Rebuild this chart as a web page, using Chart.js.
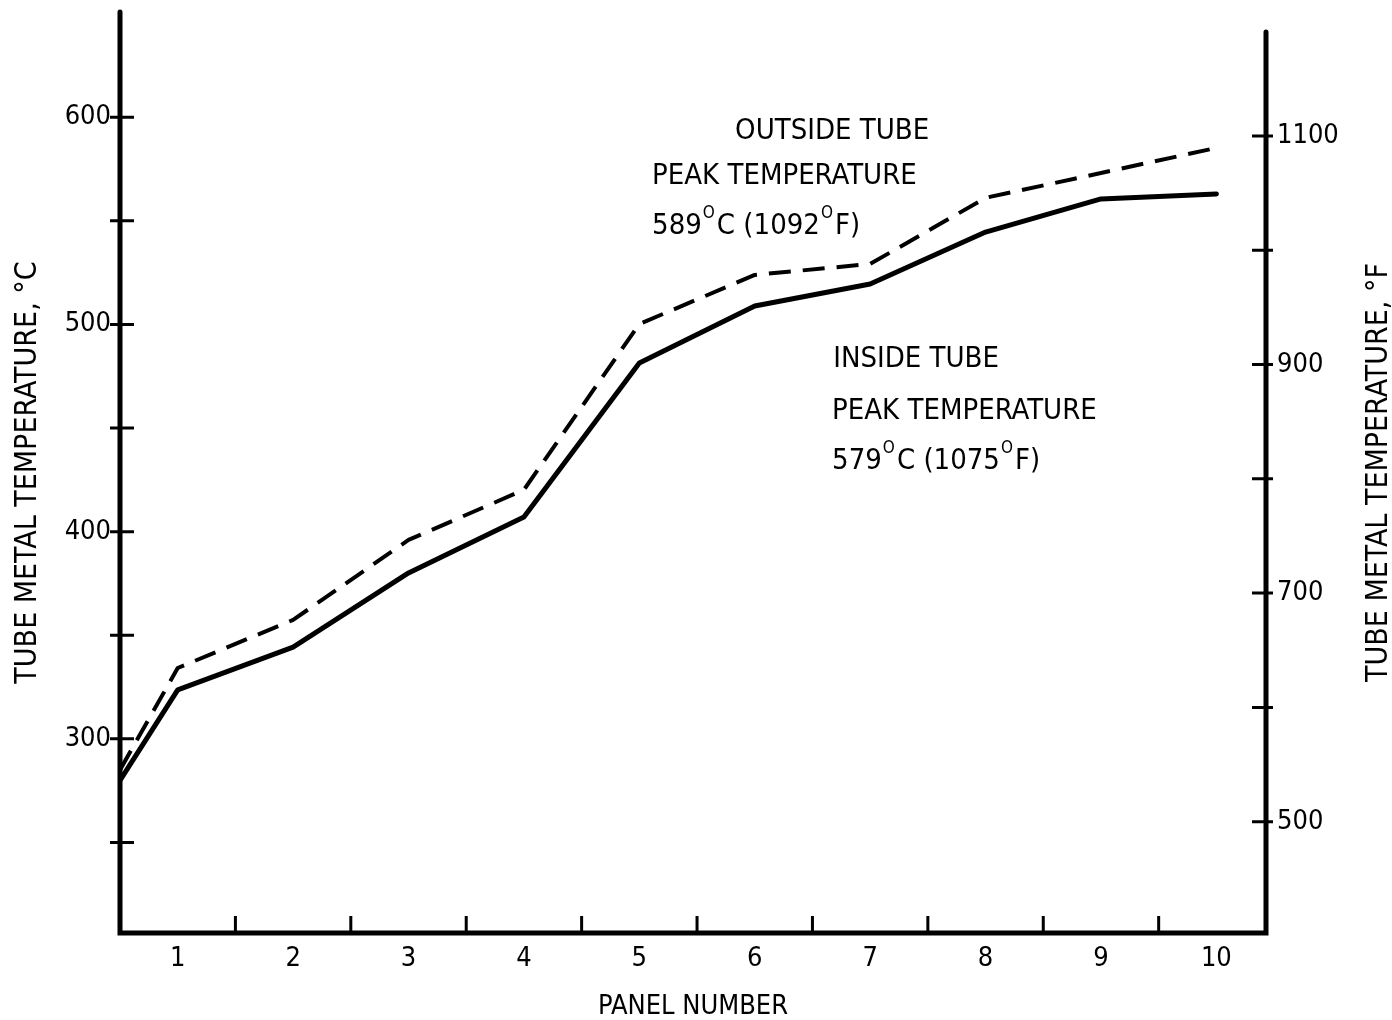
<!DOCTYPE html>
<html>
<head>
<meta charset="utf-8">
<script src="https://cdn.jsdelivr.net/npm/chart.js@4.4.1/dist/chart.umd.min.js"></script>
<style>
  html, body { margin: 0; padding: 0; background: #ffffff; }
  #wrap { width: 1392px; height: 1020px; position: relative; }
</style>
</head>
<body>
<div id="wrap"><canvas id="chart"></canvas></div>
<script>
// Panel positions along the furnace (0.5 = inlet edge of panel 1)
const PANELS = [0.5, 1, 2, 3, 4, 5, 6, 7, 8, 9, 10];
// Tube metal temperature, inside surface (°C)
const INSIDE_TUBE_C = [280, 323.6, 344.3, 380.1, 407.1, 481.4, 508.9, 519.5, 544.6, 560.6, 563.0];
// Tube metal temperature, outside surface (°C)
const OUTSIDE_TUBE_C = [285, 334.2, 357.4, 396.0, 420.2, 500.2, 523.9, 529.2, 561.1, 573.1, 585.2];

const PANEL_LABELS = [1, 2, 3, 4, 5, 6, 7, 8, 9, 10];
const PANEL_DIVIDERS = [1.5, 2.5, 3.5, 4.5, 5.5, 6.5, 7.5, 8.5, 9.5];
const C_TICKS = [300, 400, 500, 600];
const C_MINOR_TICKS = [250, 350, 450, 550];
const F_TICKS = [500, 700, 900, 1100];
const F_MINOR_TICKS = [600, 800, 1000];

// Text blocks placed in data units: [panel, °C]
const NOTES = [
  { at: [5.83, 592.9], parts: [['OUTSIDE TUBE']] },
  { at: [5.11, 571.2], parts: [['PEAK TEMPERATURE']] },
  { at: [5.11, 547.5], parts: [['589'], ['O', true], ['C (1092'], ['O', true], ['F)']] },
  { at: [6.68, 483.1], parts: [['INSIDE TUBE']] },
  { at: [6.67, 457.8], parts: [['PEAK TEMPERATURE']] },
  { at: [6.67, 434.1], parts: [['579'], ['O', true], ['C (1075'], ['O', true], ['F)']] }
];

const FAMILY = "'DejaVu Sans Condensed', 'DejaVu Sans', sans-serif";
const INK = '#000000';

function points(ys) {
  return PANELS.map((p, i) => ({ x: p, y: ys[i] }));
}

const axesAndNotes = {
  id: 'axesAndNotes',
  afterDatasetsDraw(chart) {
    const { ctx, chartArea: a, scales } = chart;
    const x = scales.x, yC = scales.yC, yF = scales.yF;
    ctx.save();
    ctx.strokeStyle = INK;
    ctx.lineCap = 'round';

    // frame: left, bottom, right
    ctx.lineWidth = 5;
    ctx.beginPath();
    ctx.moveTo(a.left, a.top);
    ctx.lineTo(a.left, a.bottom);
    ctx.lineTo(a.right, a.bottom);
    ctx.lineTo(a.right, a.top + 20);
    ctx.stroke();

    // tick marks
    ctx.lineWidth = 3;
    ctx.lineCap = 'butt';
    ctx.beginPath();
    C_TICKS.concat(C_MINOR_TICKS).forEach(v => {
      const py = yC.getPixelForValue(v);
      ctx.moveTo(a.left - 10, py);
      ctx.lineTo(a.left + 14, py);
    });
    F_TICKS.concat(F_MINOR_TICKS).forEach(v => {
      const py = yF.getPixelForValue(v);
      ctx.moveTo(a.right - 14, py);
      ctx.lineTo(a.right + 7, py);
    });
    PANEL_DIVIDERS.forEach(v => {
      const px = x.getPixelForValue(v);
      ctx.moveTo(px, a.bottom - 17);
      ctx.lineTo(px, a.bottom + 2);
    });
    ctx.stroke();

    // right axis title, reading upward
    ctx.fillStyle = INK;
    ctx.font = '30px ' + FAMILY;
    ctx.textAlign = 'center';
    ctx.textBaseline = 'middle';
    ctx.translate(a.right + 113, (a.top + a.bottom) / 2);
    ctx.rotate(-Math.PI / 2);
    ctx.fillText('TUBE METAL TEMPERATURE, °F', 0, 0);
    ctx.restore();

    // annotations (superscript "O" stands for degrees)
    ctx.save();
    ctx.fillStyle = INK;
    ctx.textAlign = 'left';
    ctx.textBaseline = 'middle';
    NOTES.forEach(n => {
      let px = x.getPixelForValue(n.at[0]);
      const py = yC.getPixelForValue(n.at[1]);
      n.parts.forEach(([t, sup]) => {
        ctx.font = (sup ? 17 : 29) + 'px ' + FAMILY;
        const dy = sup ? -12 : 0;
        ctx.fillText(t, px + (sup ? 1 : 0), py + dy);
        px += ctx.measureText(t).width + (sup ? 3 : 0);
      });
    });
    ctx.restore();
  }
};

const tickFont = { family: FAMILY, size: 27, lineHeight: 1 };
const titleFont = { family: FAMILY, size: 30, lineHeight: 1 };
const plain = v => String(v);

new Chart(document.getElementById('chart'), {
  type: 'line',
  data: {
    datasets: [
      {
        label: 'Inside tube',
        data: points(INSIDE_TUBE_C),
        yAxisID: 'yC',
        borderColor: INK,
        borderWidth: 5,
        borderJoinStyle: 'round',
        borderCapStyle: 'round',
        pointRadius: 0,
        tension: 0,
        fill: false
      },
      {
        label: 'Outside tube',
        data: points(OUTSIDE_TUBE_C),
        yAxisID: 'yC',
        borderColor: INK,
        borderWidth: 4,
        borderDash: [22, 12],
        borderJoinStyle: 'round',
        pointRadius: 0,
        tension: 0,
        fill: false
      }
    ]
  },
  options: {
    responsive: true,
    maintainAspectRatio: false,
    animation: false,
    events: [],
    layout: { padding: { top: 12, left: 0, right: 0, bottom: 0 } },
    plugins: { legend: { display: false }, tooltip: { enabled: false } },
    scales: {
      x: {
        type: 'linear',
        position: 'bottom',
        min: 0.5,
        max: 10.43,
        afterBuildTicks: s => { s.ticks = PANEL_LABELS.map(v => ({ value: v })); },
        afterFit: s => { s.height = 87; s.paddingLeft = 0; s.paddingRight = 0; },
        grid: { display: false },
        border: { display: false },
        ticks: { color: INK, font: tickFont, padding: 4, maxRotation: 0, autoSkip: false, callback: plain },
        title: { display: true, text: 'PANEL NUMBER', color: INK, font: tickFont, padding: { top: 0, bottom: 0 } }
      },
      yC: {
        type: 'linear',
        position: 'left',
        min: 206.3,
        max: 650.8,
        afterBuildTicks: s => { s.ticks = C_TICKS.map(v => ({ value: v })); },
        afterFit: s => { s.width = 120; s.paddingTop = 0; s.paddingBottom = 0; },
        grid: { display: false },
        border: { display: false },
        ticks: { color: INK, font: tickFont, padding: 1, callback: plain },
        title: { display: true, text: 'TUBE METAL TEMPERATURE, °C', color: INK, font: titleFont, padding: { top: 13, bottom: 0 } }
      },
      yF: {
        type: 'linear',
        position: 'right',
        min: 402.6,
        max: 1208.5,
        afterBuildTicks: s => { s.ticks = F_TICKS.map(v => ({ value: v })); },
        afterFit: s => { s.width = 126; s.paddingTop = 0; s.paddingBottom = 0; },
        grid: { display: false },
        border: { display: false },
        ticks: { color: INK, font: tickFont, padding: 3, callback: plain }
      }
    }
  },
  plugins: [axesAndNotes]
});
</script>
</body>
</html>
